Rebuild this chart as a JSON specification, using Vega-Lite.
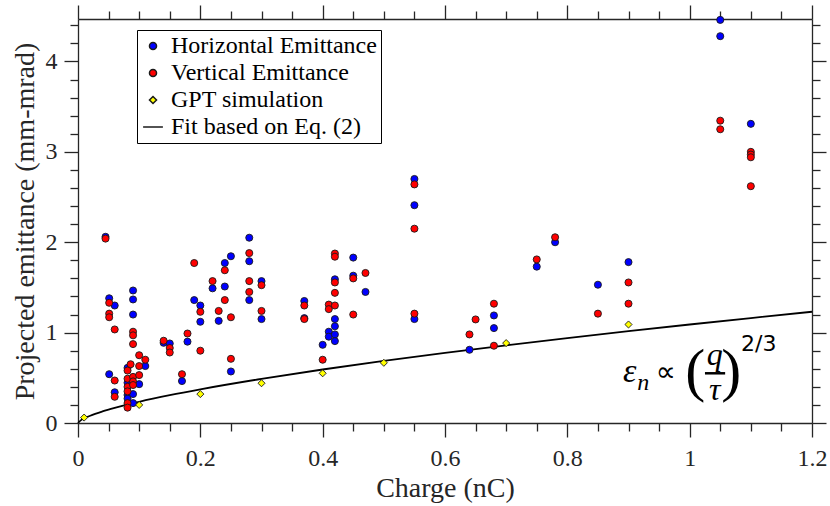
{
  "$schema": "https://vega.github.io/schema/vega-lite/v6.json",
  "width": 734,
  "height": 404,
  "autosize": "none",
  "padding": {"left": 78, "top": 19, "right": 18, "bottom": 83},
  "background": "white",
  "config": {
    "view": {"stroke": null},
    "font": "Liberation Serif",
    "axis": {
      "grid": false,
      "domainColor": "#262626",
      "domainWidth": 1.3,
      "tickColor": "#262626",
      "tickWidth": 1.3,
      "labelColor": "#262626",
      "titleColor": "#262626",
      "labelFont": "Liberation Serif",
      "titleFont": "Liberation Serif",
      "labelFontSize": 24,
      "titleFontSize": 28,
      "titleFontWeight": "normal",
      "labelOverlap": false,
      "labelFlush": false,
      "labelBound": false
    }
  },
  "datasets": {
    "pts": [
      {"series": "Horizontal Emittance", "q": 0.045, "e": 2.06},
      {"series": "Horizontal Emittance", "q": 0.051, "e": 1.38},
      {"series": "Horizontal Emittance", "q": 0.06, "e": 1.3},
      {"series": "Horizontal Emittance", "q": 0.051, "e": 0.54},
      {"series": "Horizontal Emittance", "q": 0.06, "e": 0.34},
      {"series": "Horizontal Emittance", "q": 0.081, "e": 0.61},
      {"series": "Horizontal Emittance", "q": 0.081, "e": 0.445},
      {"series": "Horizontal Emittance", "q": 0.081, "e": 0.31},
      {"series": "Horizontal Emittance", "q": 0.081, "e": 0.27},
      {"series": "Horizontal Emittance", "q": 0.09, "e": 1.466},
      {"series": "Horizontal Emittance", "q": 0.09, "e": 1.367},
      {"series": "Horizontal Emittance", "q": 0.09, "e": 1.2},
      {"series": "Horizontal Emittance", "q": 0.09, "e": 0.32},
      {"series": "Horizontal Emittance", "q": 0.09, "e": 0.22},
      {"series": "Horizontal Emittance", "q": 0.1, "e": 0.43},
      {"series": "Horizontal Emittance", "q": 0.11, "e": 0.63},
      {"series": "Horizontal Emittance", "q": 0.14, "e": 0.887},
      {"series": "Horizontal Emittance", "q": 0.15, "e": 0.88},
      {"series": "Horizontal Emittance", "q": 0.179, "e": 0.9},
      {"series": "Horizontal Emittance", "q": 0.17, "e": 0.464},
      {"series": "Horizontal Emittance", "q": 0.19, "e": 1.36},
      {"series": "Horizontal Emittance", "q": 0.2, "e": 1.3},
      {"series": "Horizontal Emittance", "q": 0.2, "e": 1.12},
      {"series": "Horizontal Emittance", "q": 0.22, "e": 1.49},
      {"series": "Horizontal Emittance", "q": 0.23, "e": 1.13},
      {"series": "Horizontal Emittance", "q": 0.24, "e": 1.77},
      {"series": "Horizontal Emittance", "q": 0.24, "e": 1.51},
      {"series": "Horizontal Emittance", "q": 0.25, "e": 1.845},
      {"series": "Horizontal Emittance", "q": 0.25, "e": 0.57},
      {"series": "Horizontal Emittance", "q": 0.28, "e": 2.05},
      {"series": "Horizontal Emittance", "q": 0.28, "e": 1.79},
      {"series": "Horizontal Emittance", "q": 0.28, "e": 1.36},
      {"series": "Horizontal Emittance", "q": 0.3, "e": 1.57},
      {"series": "Horizontal Emittance", "q": 0.3, "e": 1.15},
      {"series": "Horizontal Emittance", "q": 0.37, "e": 1.35},
      {"series": "Horizontal Emittance", "q": 0.37, "e": 1.16},
      {"series": "Horizontal Emittance", "q": 0.4, "e": 0.865},
      {"series": "Horizontal Emittance", "q": 0.41, "e": 1.01},
      {"series": "Horizontal Emittance", "q": 0.41, "e": 0.955},
      {"series": "Horizontal Emittance", "q": 0.42, "e": 1.59},
      {"series": "Horizontal Emittance", "q": 0.42, "e": 1.15},
      {"series": "Horizontal Emittance", "q": 0.42, "e": 1.07},
      {"series": "Horizontal Emittance", "q": 0.42, "e": 0.98},
      {"series": "Horizontal Emittance", "q": 0.42, "e": 0.906},
      {"series": "Horizontal Emittance", "q": 0.45, "e": 1.83},
      {"series": "Horizontal Emittance", "q": 0.45, "e": 1.63},
      {"series": "Horizontal Emittance", "q": 0.47, "e": 1.45},
      {"series": "Horizontal Emittance", "q": 0.55, "e": 2.7},
      {"series": "Horizontal Emittance", "q": 0.55, "e": 2.41},
      {"series": "Horizontal Emittance", "q": 0.55, "e": 1.15},
      {"series": "Horizontal Emittance", "q": 0.64, "e": 0.81},
      {"series": "Horizontal Emittance", "q": 0.68, "e": 1.19},
      {"series": "Horizontal Emittance", "q": 0.68, "e": 1.05},
      {"series": "Horizontal Emittance", "q": 0.75, "e": 1.73},
      {"series": "Horizontal Emittance", "q": 0.78, "e": 2.0},
      {"series": "Horizontal Emittance", "q": 0.85, "e": 1.53},
      {"series": "Horizontal Emittance", "q": 0.9, "e": 1.78},
      {"series": "Horizontal Emittance", "q": 1.05, "e": 4.46},
      {"series": "Horizontal Emittance", "q": 1.05, "e": 4.28},
      {"series": "Horizontal Emittance", "q": 1.1, "e": 3.31},
      {"series": "Vertical Emittance", "q": 0.045, "e": 2.04},
      {"series": "Vertical Emittance", "q": 0.051, "e": 1.33},
      {"series": "Vertical Emittance", "q": 0.051, "e": 1.21},
      {"series": "Vertical Emittance", "q": 0.051, "e": 1.17},
      {"series": "Vertical Emittance", "q": 0.06, "e": 1.035},
      {"series": "Vertical Emittance", "q": 0.06, "e": 0.47},
      {"series": "Vertical Emittance", "q": 0.06, "e": 0.29},
      {"series": "Vertical Emittance", "q": 0.086, "e": 0.65},
      {"series": "Vertical Emittance", "q": 0.081, "e": 0.58},
      {"series": "Vertical Emittance", "q": 0.081, "e": 0.49},
      {"series": "Vertical Emittance", "q": 0.081, "e": 0.4},
      {"series": "Vertical Emittance", "q": 0.081, "e": 0.35},
      {"series": "Vertical Emittance", "q": 0.081, "e": 0.22},
      {"series": "Vertical Emittance", "q": 0.081, "e": 0.17},
      {"series": "Vertical Emittance", "q": 0.09, "e": 1.01},
      {"series": "Vertical Emittance", "q": 0.09, "e": 0.97},
      {"series": "Vertical Emittance", "q": 0.09, "e": 0.873},
      {"series": "Vertical Emittance", "q": 0.09, "e": 0.51},
      {"series": "Vertical Emittance", "q": 0.09, "e": 0.46},
      {"series": "Vertical Emittance", "q": 0.09, "e": 0.42},
      {"series": "Vertical Emittance", "q": 0.1, "e": 0.75},
      {"series": "Vertical Emittance", "q": 0.1, "e": 0.63},
      {"series": "Vertical Emittance", "q": 0.1, "e": 0.53},
      {"series": "Vertical Emittance", "q": 0.11, "e": 0.7},
      {"series": "Vertical Emittance", "q": 0.14, "e": 0.91},
      {"series": "Vertical Emittance", "q": 0.15, "e": 0.83},
      {"series": "Vertical Emittance", "q": 0.15, "e": 0.78},
      {"series": "Vertical Emittance", "q": 0.179, "e": 0.99},
      {"series": "Vertical Emittance", "q": 0.17, "e": 0.54},
      {"series": "Vertical Emittance", "q": 0.19, "e": 1.77},
      {"series": "Vertical Emittance", "q": 0.2, "e": 1.23},
      {"series": "Vertical Emittance", "q": 0.2, "e": 0.8},
      {"series": "Vertical Emittance", "q": 0.22, "e": 1.57},
      {"series": "Vertical Emittance", "q": 0.23, "e": 1.24},
      {"series": "Vertical Emittance", "q": 0.24, "e": 1.69},
      {"series": "Vertical Emittance", "q": 0.24, "e": 1.36},
      {"series": "Vertical Emittance", "q": 0.25, "e": 1.17},
      {"series": "Vertical Emittance", "q": 0.25, "e": 0.71},
      {"series": "Vertical Emittance", "q": 0.28, "e": 1.88},
      {"series": "Vertical Emittance", "q": 0.28, "e": 1.57},
      {"series": "Vertical Emittance", "q": 0.28, "e": 1.45},
      {"series": "Vertical Emittance", "q": 0.3, "e": 1.525},
      {"series": "Vertical Emittance", "q": 0.3, "e": 1.24},
      {"series": "Vertical Emittance", "q": 0.37, "e": 1.3},
      {"series": "Vertical Emittance", "q": 0.37, "e": 1.15},
      {"series": "Vertical Emittance", "q": 0.4, "e": 0.7},
      {"series": "Vertical Emittance", "q": 0.41, "e": 1.31},
      {"series": "Vertical Emittance", "q": 0.41, "e": 1.26},
      {"series": "Vertical Emittance", "q": 0.42, "e": 1.875},
      {"series": "Vertical Emittance", "q": 0.42, "e": 1.84},
      {"series": "Vertical Emittance", "q": 0.42, "e": 1.555},
      {"series": "Vertical Emittance", "q": 0.42, "e": 1.44},
      {"series": "Vertical Emittance", "q": 0.42, "e": 1.3},
      {"series": "Vertical Emittance", "q": 0.45, "e": 1.6},
      {"series": "Vertical Emittance", "q": 0.45, "e": 1.2},
      {"series": "Vertical Emittance", "q": 0.47, "e": 1.66},
      {"series": "Vertical Emittance", "q": 0.55, "e": 2.64},
      {"series": "Vertical Emittance", "q": 0.55, "e": 2.15},
      {"series": "Vertical Emittance", "q": 0.55, "e": 1.21},
      {"series": "Vertical Emittance", "q": 0.64, "e": 0.98},
      {"series": "Vertical Emittance", "q": 0.65, "e": 1.146},
      {"series": "Vertical Emittance", "q": 0.68, "e": 1.32},
      {"series": "Vertical Emittance", "q": 0.68, "e": 0.855},
      {"series": "Vertical Emittance", "q": 0.75, "e": 1.81},
      {"series": "Vertical Emittance", "q": 0.78, "e": 2.055},
      {"series": "Vertical Emittance", "q": 0.85, "e": 1.21},
      {"series": "Vertical Emittance", "q": 0.9, "e": 1.555},
      {"series": "Vertical Emittance", "q": 0.9, "e": 1.32},
      {"series": "Vertical Emittance", "q": 1.05, "e": 3.345},
      {"series": "Vertical Emittance", "q": 1.05, "e": 3.25},
      {"series": "Vertical Emittance", "q": 1.1, "e": 3.0},
      {"series": "Vertical Emittance", "q": 1.1, "e": 2.97},
      {"series": "Vertical Emittance", "q": 1.1, "e": 2.94},
      {"series": "Vertical Emittance", "q": 1.1, "e": 2.62},
      {"series": "GPT simulation", "q": 0.01, "e": 0.06},
      {"series": "GPT simulation", "q": 0.1, "e": 0.2},
      {"series": "GPT simulation", "q": 0.2, "e": 0.32},
      {"series": "GPT simulation", "q": 0.3, "e": 0.44},
      {"series": "GPT simulation", "q": 0.4, "e": 0.55},
      {"series": "GPT simulation", "q": 0.5, "e": 0.666},
      {"series": "GPT simulation", "q": 0.7, "e": 0.884},
      {"series": "GPT simulation", "q": 0.9, "e": 1.09}
    ],
    "fit": [
      {"series": "Fit based on Eq. (2)", "q": 0, "e": 0},
      {"series": "Fit based on Eq. (2)", "q": 0.005, "e": 0.032},
      {"series": "Fit based on Eq. (2)", "q": 0.01, "e": 0.0506},
      {"series": "Fit based on Eq. (2)", "q": 0.02, "e": 0.0803},
      {"series": "Fit based on Eq. (2)", "q": 0.04, "e": 0.1275},
      {"series": "Fit based on Eq. (2)", "q": 0.06, "e": 0.167},
      {"series": "Fit based on Eq. (2)", "q": 0.08, "e": 0.2024},
      {"series": "Fit based on Eq. (2)", "q": 0.1, "e": 0.2348},
      {"series": "Fit based on Eq. (2)", "q": 0.15, "e": 0.3077},
      {"series": "Fit based on Eq. (2)", "q": 0.2, "e": 0.3728},
      {"series": "Fit based on Eq. (2)", "q": 0.3, "e": 0.4884},
      {"series": "Fit based on Eq. (2)", "q": 0.4, "e": 0.5918},
      {"series": "Fit based on Eq. (2)", "q": 0.5, "e": 0.6867},
      {"series": "Fit based on Eq. (2)", "q": 0.6, "e": 0.7754},
      {"series": "Fit based on Eq. (2)", "q": 0.7, "e": 0.8594},
      {"series": "Fit based on Eq. (2)", "q": 0.8, "e": 0.9394},
      {"series": "Fit based on Eq. (2)", "q": 0.9, "e": 1.0161},
      {"series": "Fit based on Eq. (2)", "q": 1.0, "e": 1.09},
      {"series": "Fit based on Eq. (2)", "q": 1.1, "e": 1.1615},
      {"series": "Fit based on Eq. (2)", "q": 1.2, "e": 1.2308}
    ]
  },
  "layer": [
    {
      "data": {"name": "fit"},
      "mark": {"type": "line", "strokeWidth": 1.8, "interpolate": "monotone", "color": "#000000"},
      "encoding": {
        "x": {"field": "q", "type": "quantitative",
          "scale": {"domain": [0, 1.2], "nice": false, "zero": false},
          "axis": {"orient": "top", "labels": false, "title": null,
            "values": [0,0.05,0.1,0.15,0.2,0.25,0.3,0.35,0.4,0.45,0.5,0.55,0.6,0.65,0.7,0.75,0.8,0.85,0.9,0.95,1,1.05,1.1,1.15,1.2],
            "tickSize": {"condition": {"test": "abs(datum.value*5 - round(datum.value*5)) < 1e-6", "value": 14}, "value": 8}}},
        "y": {"field": "e", "type": "quantitative",
          "scale": {"domain": [0, 4.47], "nice": false, "zero": false},
          "axis": {"orient": "right", "labels": false, "title": null,
            "values": [0,0.2,0.4,0.6,0.8,1,1.2,1.4,1.6,1.8,2,2.2,2.4,2.6,2.8,3,3.2,3.4,3.6,3.8,4,4.2,4.4],
            "tickSize": {"condition": {"test": "abs(datum.value - round(datum.value)) < 1e-6", "value": 14}, "value": 8}}}
      }
    },
    {
      "data": {"name": "pts"},
      "mark": {"type": "point", "filled": true, "stroke": "#1a1a1a", "strokeWidth": 0.9, "opacity": 1},
      "encoding": {
        "x": {"field": "q", "type": "quantitative", "title": "Charge (nC)",
          "axis": {"orient": "bottom",
            "values": [0,0.05,0.1,0.15,0.2,0.25,0.3,0.35,0.4,0.45,0.5,0.55,0.6,0.65,0.7,0.75,0.8,0.85,0.9,0.95,1,1.05,1.1,1.15,1.2],
            "labelExpr": "abs(datum.value*5 - round(datum.value*5)) < 1e-6 ? format(datum.value, '~g') : ''",
            "tickSize": 14,
            "tickDash": {"condition": {"test": "abs(datum.value*5 - round(datum.value*5)) < 1e-6", "value": [14, 0]}, "value": [8, 40]},
            "labelPadding": 9, "titlePadding": 4}},
        "y": {"field": "e", "type": "quantitative", "title": "Projected emittance (mm-mrad)",
          "axis": {"orient": "left",
            "values": [0,0.2,0.4,0.6,0.8,1,1.2,1.4,1.6,1.8,2,2.2,2.4,2.6,2.8,3,3.2,3.4,3.6,3.8,4,4.2,4.4],
            "labelExpr": "abs(datum.value - round(datum.value)) < 1e-6 ? format(datum.value, '~g') : ''",
            "tickSize": 14,
            "tickDash": {"condition": {"test": "abs(datum.value - round(datum.value)) < 1e-6", "value": [14, 0]}, "value": [8, 40]},
            "labelPadding": 7, "titlePadding": 6}},
        "color": {"field": "series", "type": "nominal",
          "scale": {"domain": ["Horizontal Emittance", "Vertical Emittance", "GPT simulation", "Fit based on Eq. (2)"],
                    "range": ["#0000ff", "#ff0000", "#ffff00", "#000000"]},
          "legend": {"title": null, "orient": "none", "legendX": 59, "legendY": 11,
            "strokeColor": "#000000", "fillColor": "#ffffff", "padding": 4,
            "labelFont": "Liberation Serif", "labelFontSize": 24, "labelColor": "#000000",
            "labelLimit": 0, "rowPadding": 3, "labelOffset": 6}},
        "shape": {"field": "series", "type": "nominal",
          "scale": {"domain": ["Horizontal Emittance", "Vertical Emittance", "GPT simulation", "Fit based on Eq. (2)"],
                    "range": ["circle", "circle", "diamond", "M-2.8,0L2.8,0"]},
          "legend": {"title": null, "orient": "none", "legendX": 59, "legendY": 11,
            "strokeColor": "#000000", "fillColor": "#ffffff", "padding": 4,
            "labelFont": "Liberation Serif", "labelFontSize": 24, "labelColor": "#000000",
            "labelLimit": 0, "rowPadding": 3, "labelOffset": 6}},
        "size": {"field": "series", "type": "nominal",
          "scale": {"domain": ["Horizontal Emittance", "Vertical Emittance", "GPT simulation", "Fit based on Eq. (2)"],
                    "range": [50, 50, 60, 380]},
          "legend": {"title": null, "orient": "none", "legendX": 59, "legendY": 11,
            "strokeColor": "#000000", "fillColor": "#ffffff", "padding": 4,
            "labelFont": "Liberation Serif", "labelFontSize": 24, "labelColor": "#000000",
            "labelLimit": 0, "rowPadding": 3, "labelOffset": 6}}
      }
    },
    {
      "data": {"values": [{}]},
      "mark": {"type": "text", "text": "ε", "font": "Liberation Serif", "fontStyle": "italic", "fontSize": 34, "align": "center", "baseline": "middle", "color": "#000000"},
      "encoding": {"x": {"datum": 0.902, "type": "quantitative", "axis": null}, "y": {"datum": 0.56, "type": "quantitative", "axis": null}}
    },
    {
      "data": {"values": [{}]},
      "mark": {"type": "text", "text": "n", "font": "Liberation Serif", "fontStyle": "italic", "fontSize": 24, "align": "center", "baseline": "middle", "color": "#000000"},
      "encoding": {"x": {"datum": 0.924, "type": "quantitative", "axis": null}, "y": {"datum": 0.44, "type": "quantitative", "axis": null}}
    },
    {
      "data": {"values": [{}]},
      "mark": {"type": "text", "text": "∝", "font": "DejaVu Sans", "fontSize": 28, "align": "center", "baseline": "middle", "color": "#000000"},
      "encoding": {"x": {"datum": 0.961, "type": "quantitative", "axis": null}, "y": {"datum": 0.55, "type": "quantitative", "axis": null}}
    },
    {
      "data": {"values": [{}]},
      "mark": {"type": "text", "text": "(", "font": "Liberation Serif", "fontSize": 60, "align": "center", "baseline": "middle", "color": "#000000"},
      "encoding": {"x": {"datum": 1.009, "type": "quantitative", "axis": null}, "y": {"datum": 0.56, "type": "quantitative", "axis": null}}
    },
    {
      "data": {"values": [{}]},
      "mark": {"type": "text", "text": ")", "font": "Liberation Serif", "fontSize": 60, "align": "center", "baseline": "middle", "color": "#000000"},
      "encoding": {"x": {"datum": 1.068, "type": "quantitative", "axis": null}, "y": {"datum": 0.56, "type": "quantitative", "axis": null}}
    },
    {
      "data": {"values": [{}]},
      "mark": {"type": "text", "text": "q", "font": "Liberation Serif", "fontStyle": "italic", "fontSize": 32, "align": "center", "baseline": "middle", "color": "#000000"},
      "encoding": {"x": {"datum": 1.041, "type": "quantitative", "axis": null}, "y": {"datum": 0.75, "type": "quantitative", "axis": null}}
    },
    {
      "data": {"values": [{}]},
      "mark": {"type": "rule", "strokeWidth": 2.5, "color": "#000000"},
      "encoding": {"x": {"datum": 1.025, "type": "quantitative", "axis": null}, "x2": {"datum": 1.058}, "y": {"datum": 0.55, "type": "quantitative", "axis": null}}
    },
    {
      "data": {"values": [{}]},
      "mark": {"type": "text", "text": "τ", "font": "Liberation Serif", "fontStyle": "italic", "fontSize": 32, "align": "center", "baseline": "middle", "color": "#000000"},
      "encoding": {"x": {"datum": 1.041, "type": "quantitative", "axis": null}, "y": {"datum": 0.36, "type": "quantitative", "axis": null}}
    },
    {
      "data": {"values": [{}]},
      "mark": {"type": "text", "text": "2/3", "font": "DejaVu Sans", "fontSize": 22, "align": "center", "baseline": "middle", "color": "#000000"},
      "encoding": {"x": {"datum": 1.113, "type": "quantitative", "axis": null}, "y": {"datum": 0.87, "type": "quantitative", "axis": null}}
    }
  ]
}
